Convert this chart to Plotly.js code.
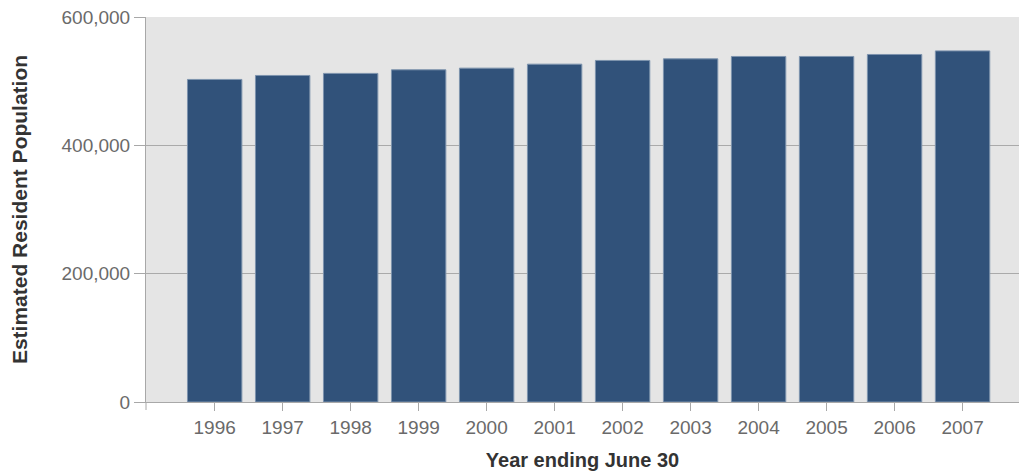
<!DOCTYPE html>
<html>
<head>
<meta charset="utf-8">
<script src="https://cdn.plot.ly/plotly-3.0.1.min.js"></script>
<style>html,body{margin:0;padding:0;background:#fff;}#chart{width:1019px;height:472px;}</style>
</head>
<body>
<div id="chart"></div>
<script>
const years = [1996, 1997, 1998, 1999, 2000, 2001, 2002, 2003, 2004, 2005, 2006, 2007];
const population = [502700, 508900, 512100, 517700, 520300, 526500, 532300, 534800, 538500, 538500, 541600, 547200];
const yTicks = [0, 200000, 400000, 600000];

const font = 'Arial, "Liberation Sans", sans-serif';

Plotly.newPlot('chart', [{
  type: 'bar',
  x: years,
  y: population,
  width: 0.8,
  marker: {color: '#31527a', line: {color: '#7d93ad', width: 1}},
  hoverinfo: 'x+y'
}], {
  width: 1019, height: 472,
  margin: {l: 146, r: 0, t: 17, b: 70, pad: 0},
  paper_bgcolor: '#ffffff',
  plot_bgcolor: '#e5e5e5',
  showlegend: false,
  font: {family: font},
  xaxis: {
    range: [1994.99, 2007.83],
    tickvals: years,
    tickformat: 'd',
    ticks: 'outside', ticklen: 8, tickcolor: '#a8a8a8', tickwidth: 1,
    showgrid: false, zeroline: false,
    showline: true, linecolor: '#a8a8a8', linewidth: 1,
    tickfont: {size: 19, color: '#6a6a6a', family: font},
    title: {text: '<b>Year ending June 30</b>', font: {size: 20, color: '#333333', family: font}, standoff: 16},
    automargin: false
  },
  yaxis: {
    range: [0, 600000],
    tickvals: yTicks,
    tickformat: ',d',
    ticks: 'outside', ticklen: 11, tickcolor: '#a8a8a8', tickwidth: 1,
    showgrid: true, gridcolor: '#aaaaaa', gridwidth: 1,
    zeroline: false,
    showline: true, linecolor: '#a8a8a8', linewidth: 1,
    tickfont: {size: 19, color: '#6a6a6a', family: font},
    title: {text: '<b>Estimated Resident Population</b>', font: {size: 21, color: '#333333', family: font}, standoff: 28},
    automargin: false
  },
  shapes: [{
    type: 'line', xref: 'paper', yref: 'paper',
    x0: 0, x1: 0, y0: 0, y1: -8/385,
    line: {color: '#a8a8a8', width: 1}
  }]
}, {displayModeBar: false, staticPlot: true});
</script>
</body>
</html>
